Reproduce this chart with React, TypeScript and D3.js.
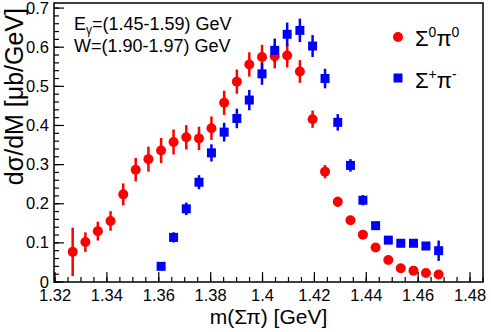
import React from "react";
import * as d3 from "d3";

// Sigma0 pi0 (red circles)
const massRed = [
  1.3268, 1.3317, 1.3365, 1.3414, 1.3463, 1.3511, 1.3560, 1.3609, 1.3657, 1.3706,
  1.3755, 1.3803, 1.3852, 1.3901, 1.3949, 1.3998, 1.4047, 1.4095, 1.4144, 1.4193,
  1.4241, 1.4290, 1.4339, 1.4387, 1.4436, 1.4485, 1.4533, 1.4582, 1.4630, 1.4679,
];
const sigmaRed = [
  0.077, 0.102, 0.130, 0.156, 0.224, 0.287, 0.314, 0.336, 0.358, 0.370,
  0.367, 0.393, 0.458, 0.512, 0.556, 0.575, 0.577, 0.579, 0.538, 0.416,
  0.282, 0.205, 0.158, 0.121, 0.088, 0.056, 0.035, 0.029, 0.023, 0.019,
];
const errRed = [
  0.062, 0.025, 0.024, 0.025, 0.028, 0.030, 0.032, 0.032, 0.032, 0.031,
  0.030, 0.030, 0.031, 0.031, 0.031, 0.031, 0.031, 0.031, 0.029, 0.022,
  0.017, 0.013, 0.011, 0.008, 0.006, 0.005, 0.004, 0.004, 0.003, 0.003,
];

// Sigma+ pi- (blue squares)
const massBlue = [
  1.3609, 1.3657, 1.3706, 1.3755, 1.3803, 1.3852, 1.3901, 1.3949, 1.3998, 1.4047,
  1.4095, 1.4144, 1.4193, 1.4241, 1.4290, 1.4339, 1.4387, 1.4436, 1.4485, 1.4533,
  1.4582, 1.4630, 1.4679,
];
const sigmaBlue = [
  0.040, 0.114, 0.187, 0.255, 0.330, 0.383, 0.418, 0.465, 0.532, 0.592,
  0.633, 0.643, 0.603, 0.520, 0.408, 0.298, 0.209, 0.144, 0.107, 0.099,
  0.099, 0.092, 0.080,
];
const errBlue = [
  0.004, 0.013, 0.016, 0.018, 0.022, 0.024, 0.025, 0.026, 0.028, 0.030,
  0.030, 0.030, 0.028, 0.025, 0.021, 0.016, 0.013, 0.009, 0.007, 0.006,
  0.006, 0.010, 0.026,
];

const xTicks = [1.32, 1.34, 1.36, 1.38, 1.4, 1.42, 1.44, 1.46, 1.48];
const xTickLabels = ["1.32", "1.34", "1.36", "1.38", "1.4", "1.42", "1.44", "1.46", "1.48"];
const yTicks = [0, 0.1, 0.2, 0.3, 0.4, 0.5, 0.6, 0.7];
const yTickLabels = ["0", "0.1", "0.2", "0.3", "0.4", "0.5", "0.6", "0.7"];

const W = 491;
const H = 332;
const frame = { left: 54, right: 483, top: 3, bottom: 282 };
const font = "'Liberation Sans', Arial, sans-serif";

export default function App() {
  const x = d3.scaleLinear().domain([1.3196, 1.485]).range([frame.left, frame.right]);
  const y = d3.scaleLinear().domain([0, 0.713]).range([frame.bottom, frame.top]);

  const xMinor = d3.range(1.32, 1.4851, 0.005);
  const yMinor = d3.range(0, 0.7131, 0.02);

  return (
    <svg width={W} height={H} style={{ position: "absolute", left: 0, top: 0, background: "#fff" }}
      fontFamily={font}>
      <rect x={0} y={0} width={W} height={H} fill="#fff" />

      {/* minor ticks */}
      {xMinor.map((t, i) => (
        <line key={"xm" + i} x1={x(t)} x2={x(t)} y1={frame.bottom} y2={frame.bottom - 5} stroke="#000" strokeWidth={1.2} />
      ))}
      {yMinor.map((t, i) => (
        <line key={"ym" + i} x1={frame.left} x2={frame.left + 5} y1={y(t)} y2={y(t)} stroke="#000" strokeWidth={1.2} />
      ))}
      {/* major ticks + labels */}
      {xTicks.map((t, i) => (
        <g key={"xt" + i}>
          <line x1={x(t)} x2={x(t)} y1={frame.bottom} y2={frame.bottom - 10} stroke="#000" strokeWidth={1.2} />
          <text x={x(t)} y={300.5} textAnchor="middle" fontSize={16.5}>{xTickLabels[i]}</text>
        </g>
      ))}
      {yTicks.map((t, i) => (
        <g key={"yt" + i}>
          <line x1={frame.left} x2={frame.left + 10} y1={y(t)} y2={y(t)} stroke="#000" strokeWidth={1.2} />
          <text x={49} y={y(t) + 5.5} textAnchor="end" fontSize={16.5}>{yTickLabels[i]}</text>
        </g>
      ))}

      {/* error bars */}
      {massRed.map((m, i) => (
        <line key={"re" + i} x1={x(m)} x2={x(m)} y1={y(sigmaRed[i] - errRed[i])} y2={y(sigmaRed[i] + errRed[i])}
          stroke="#ff0000" strokeWidth={2.5} />
      ))}
      {massBlue.map((m, i) => (
        <line key={"be" + i} x1={x(m)} x2={x(m)} y1={y(sigmaBlue[i] - errBlue[i])} y2={y(sigmaBlue[i] + errBlue[i])}
          stroke="#0000ff" strokeWidth={2.5} />
      ))}
      {/* markers */}
      {massRed.map((m, i) => (
        <circle key={"rc" + i} cx={x(m)} cy={y(sigmaRed[i])} r={5} fill="#ff0000" />
      ))}
      {massBlue.map((m, i) => (
        <rect key={"bs" + i} x={x(m) - 4.5} y={y(sigmaBlue[i]) - 4.5} width={9} height={9} fill="#0000ff" />
      ))}

      {/* frame */}
      <rect x={frame.left} y={frame.top} width={frame.right - frame.left} height={frame.bottom - frame.top}
        fill="none" stroke="#000" strokeWidth={1.5} />

      {/* annotations */}
      <text x={74} y={30} fontSize={18}>
        E<tspan fontSize={12} dy={4}>γ</tspan><tspan dy={-4}>=(1.45-1.59) GeV</tspan>
      </text>
      <text x={74} y={52} fontSize={18}>W=(1.90-1.97) GeV</text>

      {/* legend */}
      <circle cx={398} cy={37} r={5} fill="#ff0000" />
      <text x={415} y={46} fontSize={22}>
        Σ<tspan fontSize={14} dy={-9}>0</tspan><tspan dy={9}>π</tspan><tspan fontSize={14} dy={-9}>0</tspan>
      </text>
      <rect x={393.5} y={73.5} width={9} height={9} fill="#0000ff" />
      <text x={415} y={88} fontSize={22}>
        Σ<tspan fontSize={14} dy={-9}>+</tspan><tspan dy={9}>π</tspan><tspan fontSize={14} dy={-9}>-</tspan>
      </text>

      {/* axis titles */}
      <text x={(frame.left + frame.right) / 2} y={324} textAnchor="middle" fontSize={21}>m(Σπ) [GeV]</text>
      <text transform={`translate(23, 8) rotate(-90)`} textAnchor="end" fontSize={25}>dσ/dM [μb/GeV]</text>
    </svg>
  );
}
